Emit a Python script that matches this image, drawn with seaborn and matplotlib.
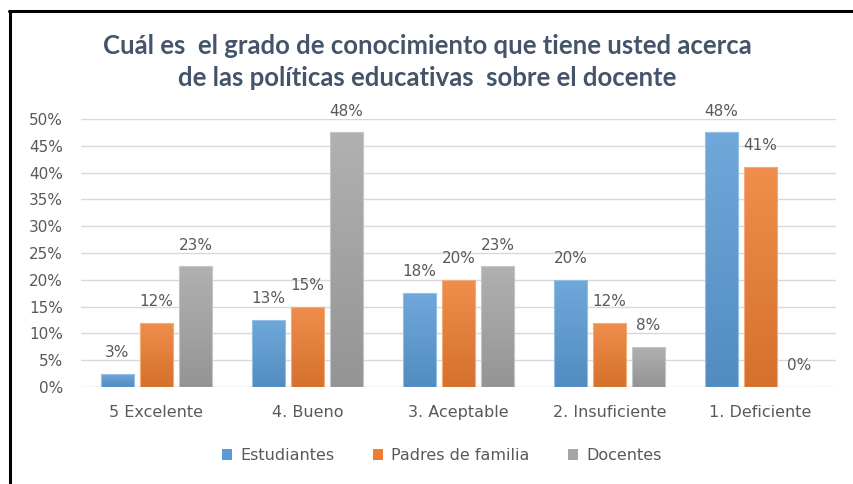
import math
import numpy as np
import pandas as pd
import matplotlib
matplotlib.use("Agg")
import matplotlib.pyplot as plt
from matplotlib.colors import LinearSegmentedColormap, to_rgb
from matplotlib.lines import Line2D
from matplotlib.ticker import PercentFormatter, MultipleLocator
import seaborn as sns

# Survey answers (percent of each group)
categories = ["5 Excelente", "4. Bueno", "3. Aceptable", "2. Insuficiente", "1. Deficiente"]
estudiantes = [2.5, 12.5, 17.5, 20.0, 47.5]
padres = [12.0, 15.0, 20.0, 12.0, 41.0]
docentes = [22.5, 47.5, 22.5, 7.5, 0.0]
groups = ["Estudiantes", "Padres de familia", "Docentes"]
colors = ["#5B9BD5", "#ED7D31", "#A5A5A5"]

df = pd.DataFrame({
    "categoria": categories * 3,
    "grupo": [g for g in groups for _ in categories],
    "valor": estudiantes + padres + docentes,
})

sns.set_theme(style="white")
plt.rcParams["font.family"] = ["DejaVu Sans"]
text_color = "#595959"

fig = plt.figure(figsize=(8.54, 4.84), dpi=100)
ax = fig.add_axes([0.0948, 0.2004, 0.979 - 0.0948, 0.754 - 0.2004])

sns.barplot(data=df, x="categoria", y="valor", hue="grupo", order=categories,
            hue_order=groups, palette=colors, width=0.775, gap=0.15,
            ax=ax, legend=False, saturation=1)

ax.set_ylim(0, 50)
xlim = ax.get_xlim()


def shade(c, f):
    r = np.array(to_rgb(c))
    if f > 0:
        return tuple(r + (1 - r) * f)
    return tuple(r * (1 + f))


# vertical gradient fill on each bar
grad = np.linspace(1, 0, 256).reshape(-1, 1)
n = len(categories)
for i, patch in enumerate(ax.patches[:n * len(groups)]):
    base = colors[i // n]
    cmap = LinearSegmentedColormap.from_list("g", [shade(base, -0.1), shade(base, 0.13)])
    x0, y0 = patch.get_x(), patch.get_y()
    w, h = patch.get_width(), patch.get_height()
    if h <= 0:
        continue
    im = ax.imshow(grad, extent=[x0, x0 + w, y0, y0 + h], aspect="auto",
                   cmap=cmap, zorder=2, origin="upper")
    im.set_clip_path(patch)
    patch.set_edgecolor(shade(base, 0.35))
    patch.set_linewidth(0.8)
    patch.set_zorder(2.5)
    patch.set_facecolor("none")

ax.set_xlim(xlim)
ax.set_ylim(0, 50)

# value labels
for k, cont in enumerate(ax.containers):
    vals = [estudiantes, padres, docentes][k]
    labels = [f"{math.floor(v + 0.5)}%" for v in vals]
    ax.bar_label(cont, labels=labels, padding=10, fontsize=11, color=text_color)

ax.yaxis.set_major_locator(MultipleLocator(5))
ax.yaxis.set_major_formatter(PercentFormatter(100, decimals=0))
ax.grid(axis="y", color="#D9D9D9", linewidth=1)
ax.set_axisbelow(True)
for s in ax.spines.values():
    s.set_visible(False)
ax.tick_params(axis="both", length=0, colors=text_color)
ax.tick_params(axis="x", pad=13, labelsize=11.5)
ax.tick_params(axis="y", pad=13, labelsize=11)
ax.set_xlabel("")
ax.set_ylabel("")

# legend
handles = [plt.Rectangle((0, 0), 1, 1, facecolor=c, edgecolor="none") for c in colors]
fig.legend(handles, groups, loc="center", bbox_to_anchor=(0.517, 0.058), ncol=3,
           frameon=False, fontsize=11.5, handlelength=0.65, handleheight=0.65,
           handletextpad=0.5, columnspacing=2.4, labelcolor=text_color)

# title
fig.text(0.5, 1 - 62 / 484, "Cuál es  el grado de conocimiento que tiene usted acerca\nde las políticas educativas  sobre el docente",
         ha="center", va="center", fontsize=18.5, fontweight="bold", color="#44546A",
         family=["Lato", "DejaVu Sans"], linespacing=1.38)

# figure frame (top and left edges)
fig.add_artist(Line2D([9 / 854, 1], [1 - 11 / 484, 1 - 11 / 484], color="black", linewidth=2.2,
                      transform=fig.transFigure))
fig.add_artist(Line2D([10 / 854, 10 / 854], [0, 1 - 11 / 484], color="black", linewidth=2.2,
                      transform=fig.transFigure))

fig.savefig("out.png", dpi=100)
